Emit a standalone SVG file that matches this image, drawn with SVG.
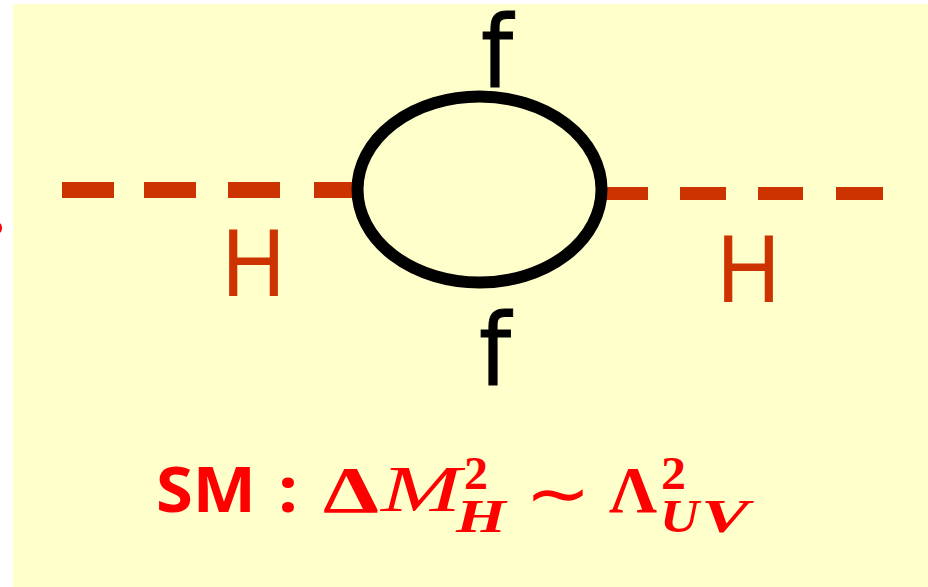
<svg xmlns="http://www.w3.org/2000/svg" width="928" height="587" viewBox="0 0 928 587">
<style>
.h{font-family:"Liberation Sans",Arial,sans-serif;font-size:97px;fill:#cc3300}
.f{font-family:"DejaVu Sans",sans-serif;font-size:100px;fill:#000;stroke:#000;stroke-width:1}
.sb{font-family:"Open Sans","Liberation Sans",sans-serif;font-weight:700;font-size:63px;fill:#f00}
.mb{font-family:"Liberation Serif","Times New Roman",serif;font-weight:bold;font-size:66px;fill:#f00}
.mi{font-family:"Liberation Serif","Times New Roman",serif;font-style:italic;font-size:66px;fill:#f00}
.si{font-family:"Liberation Serif","Times New Roman",serif;font-style:italic;font-weight:bold;font-size:46px;fill:#f00}
.sn{font-family:"Liberation Serif","Times New Roman",serif;font-weight:bold;font-size:46px;fill:#f00}
.tl{font-family:"DejaVu Sans",sans-serif;font-size:72px;fill:#f00}
.dash{fill:#cc3300}
</style>
<rect width="928" height="587" fill="#fff"/>
<rect x="13" y="4" width="915" height="583" fill="#ffffcc"/>
<ellipse cx="-1" cy="228" rx="3" ry="5" fill="#f00"/>
<g id="connectors">
<g class="dash">
<rect x="62" y="182" width="52" height="16"/>
<rect x="144" y="182" width="52" height="16"/>
<rect x="228" y="182" width="52" height="16"/>
<rect x="314" y="182" width="40" height="16"/>
<rect x="605" y="187" width="43" height="13"/>
<rect x="680" y="187" width="46" height="13"/>
<rect x="758" y="187" width="45" height="13"/>
<rect x="836" y="187" width="47" height="13"/>
</g>
</g>
<g id="loop"><ellipse cx="479.5" cy="189.5" rx="122" ry="93" fill="none" stroke="#000" stroke-width="12"/></g>
<g id="label-f-top"><text class="f" x="481" y="87" textLength="32" lengthAdjust="spacingAndGlyphs">f</text></g>
<g id="label-f-bottom"><text class="f" x="479" y="385" textLength="32" lengthAdjust="spacingAndGlyphs">f</text></g>
<g id="label-h-left"><text class="h" x="222" y="296" textLength="63" lengthAdjust="spacingAndGlyphs">H</text></g>
<g id="label-h-right"><text class="h" x="717" y="302" textLength="63" lengthAdjust="spacingAndGlyphs">H</text></g>
<g id="formula">
<text class="sb" x="156" y="512" textLength="100" lengthAdjust="spacingAndGlyphs">SM</text>
<text class="sb" x="278" y="512" textLength="20" lengthAdjust="spacingAndGlyphs">:</text>
<text class="mb" x="323" y="512" textLength="56" lengthAdjust="spacingAndGlyphs">Δ</text>
<text class="mi" x="381" y="511" textLength="80" lengthAdjust="spacingAndGlyphs">M</text>
<text class="sn" x="464" y="489" textLength="24" lengthAdjust="spacingAndGlyphs">2</text>
<text class="si" x="456" y="532" textLength="50" lengthAdjust="spacingAndGlyphs">H</text>
<text class="tl" x="525" y="518" textLength="66" lengthAdjust="spacingAndGlyphs">∼</text>
<text class="mb" x="609" y="512" textLength="48" lengthAdjust="spacingAndGlyphs">Λ</text>
<text class="sn" x="661" y="489" textLength="25" lengthAdjust="spacingAndGlyphs">2</text>
<text class="si" x="660" y="532" textLength="39" lengthAdjust="spacingAndGlyphs">U</text>
<text class="si" x="701" y="532" textLength="48" lengthAdjust="spacingAndGlyphs">V</text>
</g>
</svg>
